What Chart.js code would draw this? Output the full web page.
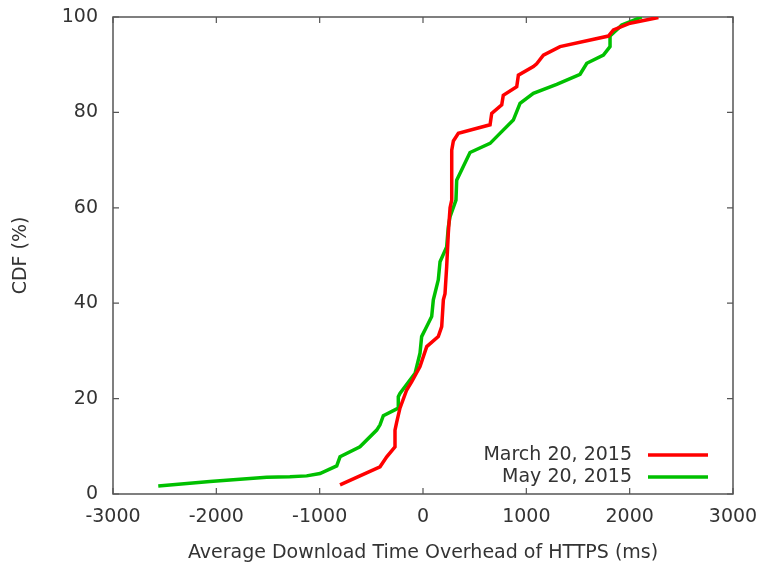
<!DOCTYPE html>
<html>
<head>
<meta charset="utf-8">
<title>HTTPS overhead CDF</title>
<script src="https://cdn.jsdelivr.net/npm/chart.js@4/dist/chart.umd.min.js"></script>
<style>
  html, body { margin: 0; padding: 0; background: #fff; }
  #wrap { width: 758px; height: 564px; }
</style>
</head>
<body>
<div id="wrap"><canvas id="cdf" width="758" height="564"></canvas></div>
<script>
// CDF of the download time overhead (ms) -> cumulative percent
const marchLabel = "March 20, 2015";
const marchX = [-803, -610, -416, -351, -271, -271, -255, -223, -158, -110, -29, 36, 148, 181, 197, 213, 229, 245, 262, 278, 278, 294, 342, 649, 665, 762, 777, 907, 923, 1068, 1100, 1165, 1326, 1794, 1843, 2004, 2278];
const marchY = [1.9, 3.8, 5.7, 7.8, 9.9, 13.4, 15, 18, 21.8, 23.5, 26.7, 30.9, 33, 35.1, 40.7, 42, 47.6, 54.7, 60, 61.6, 72.1, 74, 75.6, 77.4, 79.8, 81.6, 83.6, 85.4, 87.8, 89.6, 90.2, 92, 93.8, 96, 97.3, 98.7, 99.9];

const mayLabel = "May 20, 2015";
const mayX = [-2562, -2062, -1513, -1288, -1126, -997, -835, -803, -610, -448, -416, -384, -239, -239, -223, -77, -29, -13, 36, 84, 100, 148, 165, 229, 245, 261, 319, 326, 455, 649, 745, 874, 939, 1068, 1294, 1520, 1585, 1746, 1810, 1810, 1923, 2117];
const mayY = [1.7, 2.6, 3.5, 3.6, 3.8, 4.3, 5.9, 7.8, 9.9, 13.4, 14.5, 16.4, 18, 20.4, 21.1, 25.3, 29.5, 33, 35.1, 37.2, 40.7, 44.9, 48.7, 51.8, 56, 58.1, 61.6, 65.8, 71.6, 73.5, 75.6, 78.4, 81.9, 84, 85.9, 88, 90.3, 92, 93.8, 96, 98.3, 100];

const xTicks = [-3000, -2000, -1000, 0, 1000, 2000, 3000];
const yTicks = [0, 20, 40, 60, 80, 100];

const FONT = "'DejaVu Sans', sans-serif";
const TEXT = "#333";
const FRAME = "#555";

function toPoints(xs, ys) {
  return xs.map((x, i) => ({ x, y: ys[i] }));
}

// gnuplot-like frame: border plus inward ticks on all four sides
const framePlugin = {
  id: "frame",
  beforeDatasetsDraw(chart) {
    const { ctx, chartArea: a, scales } = chart;
    const len = 6;
    ctx.save();
    ctx.strokeStyle = FRAME;
    ctx.lineWidth = 1.5;
    ctx.strokeRect(a.left, a.top, a.right - a.left, a.bottom - a.top);
    ctx.lineWidth = 1.2;
    ctx.beginPath();
    xTicks.forEach(v => {
      const px = scales.x.getPixelForValue(v);
      ctx.moveTo(px, a.bottom); ctx.lineTo(px, a.bottom - len);
      ctx.moveTo(px, a.top); ctx.lineTo(px, a.top + len);
    });
    yTicks.forEach(v => {
      const py = scales.y.getPixelForValue(v);
      ctx.moveTo(a.left, py); ctx.lineTo(a.left + len, py);
      ctx.moveTo(a.right, py); ctx.lineTo(a.right - len, py);
    });
    ctx.stroke();
    ctx.restore();
  }
};

// key in the lower right corner: label text, then a line sample
const keyPlugin = {
  id: "key",
  afterDatasetsDraw(chart) {
    const { ctx } = chart;
    const textRight = 632, lineStart = 648, lineEnd = 708;
    const rows = [455, 477];
    ctx.save();
    ctx.font = "19px " + FONT;
    ctx.textAlign = "right";
    ctx.textBaseline = "middle";
    chart.data.datasets.forEach((ds, i) => {
      const y = rows[i];
      ctx.fillStyle = TEXT;
      ctx.fillText(ds.label, textRight, y);
      ctx.strokeStyle = ds.borderColor;
      ctx.lineWidth = ds.borderWidth;
      ctx.beginPath();
      ctx.moveTo(lineStart, y);
      ctx.lineTo(lineEnd, y);
      ctx.stroke();
    });
    ctx.restore();
  }
};

new Chart(document.getElementById("cdf"), {
  type: "scatter",
  data: {
    datasets: [
      {
        label: marchLabel,
        data: toPoints(marchX, marchY),
        showLine: true,
        borderColor: "#ff0000",
        borderWidth: 3.5,
        pointRadius: 0,
        tension: 0
      },
      {
        label: mayLabel,
        data: toPoints(mayX, mayY),
        showLine: true,
        borderColor: "#00c000",
        borderWidth: 3.5,
        pointRadius: 0,
        tension: 0
      }
    ]
  },
  options: {
    responsive: false,
    animation: false,
    layout: { padding: { top: 17, right: 25, left: 0, bottom: 0 } },
    plugins: {
      legend: { display: false },
      tooltip: { enabled: false }
    },
    scales: {
      x: {
        type: "linear",
        min: -3000,
        max: 3000,
        afterBuildTicks: s => { s.ticks = xTicks.map(v => ({ value: v })); },
        ticks: {
          color: TEXT,
          font: { family: FONT, size: 19 },
          padding: 12,
          maxRotation: 0,
          callback: v => String(v)
        },
        grid: { display: false, drawTicks: false },
        border: { display: false },
        title: {
          display: true,
          text: "Average Download Time Overhead of HTTPS (ms)",
          color: TEXT,
          font: { family: FONT, size: 19 },
          padding: { top: 2, bottom: 0 }
        },
        afterFit: s => { s.height = 70; s.paddingLeft = 0; s.paddingRight = 0; }
      },
      y: {
        type: "linear",
        min: 0,
        max: 100,
        afterBuildTicks: s => { s.ticks = yTicks.map(v => ({ value: v })); },
        ticks: {
          color: TEXT,
          font: { family: FONT, size: 19 },
          padding: 15,
          callback: v => String(v)
        },
        grid: { display: false, drawTicks: false },
        border: { display: false },
        title: {
          display: true,
          text: "CDF (%)",
          color: TEXT,
          font: { family: FONT, size: 19 },
          padding: { top: 10, bottom: 0 }
        },
        afterFit: s => { s.width = 113; s.paddingTop = 0; s.paddingBottom = 0; }
      }
    }
  },
  plugins: [framePlugin, keyPlugin]
});
</script>
</body>
</html>
